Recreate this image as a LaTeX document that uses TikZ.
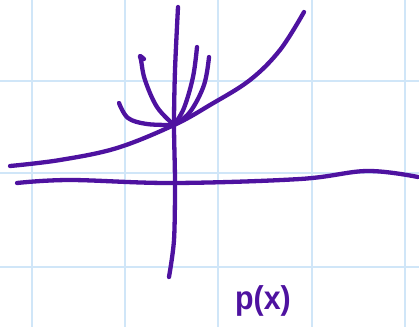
\documentclass[tikz,border=0pt]{standalone}
\usepackage{fontspec}
\setsansfont{Liberation Sans}
\definecolor{ink}{RGB}{78,18,160}
\definecolor{gridblue}{RGB}{208,230,248}
\tikzset{
  pen/.style={draw=ink,line width=4.3pt,line cap=round,line join=round},
  gridline/.style={draw=gridblue,line width=2.8pt}
}
\begin{document}
\begin{tikzpicture}[x=1pt,y=-1pt]
\useasboundingbox (0,0) rectangle (419,327);
\fill[white] (0,0) rectangle (419,327);
% grid
\foreach \gx in {32,125,218,312,405} \draw[gridline] (\gx,0) -- (\gx,327);
\foreach \gy in {81,173,267} \draw[gridline] (0,\gy) -- (419,\gy);
% origin point of the family
\coordinate (o) at (174,125);
% horizontal axis
\draw[pen] plot[smooth,tension=0.6] coordinates {(17,183) (70,180) (173,183) (300,179) (367,171) (418,177)};
% vertical axis
\draw[pen] plot[smooth,tension=0.5] coordinates {(178,7) (175,70) (174,125) (175,183) (174,240) (169,277)};
% exponential curve
\draw[pen] plot[smooth,tension=0.6] coordinates {(10,166) (60,160) (117,148) (o) (210,105) (250,80) (280,50) (304,12)};
% branches
\draw[pen] plot[smooth,tension=0.6] coordinates {(119,103) (128,118) (147,124) (o)};
\draw[pen] plot[smooth,tension=0.6] coordinates {(o) (157,107) (145,80) (141,60) (140,56) (144,59)};
\draw[pen] plot[smooth,tension=0.6] coordinates {(o) (184,108) (193,77) (197,47)};
\draw[pen] plot[smooth,tension=0.6] coordinates {(o) (190,112) (204,85) (209,57)};
% label
\node[text=ink,font=\sffamily\bfseries\fontsize{33}{33}\selectfont,inner sep=0pt,xscale=0.92] (lbl) at (263,301) {p(x)};
\end{tikzpicture}
\end{document}
